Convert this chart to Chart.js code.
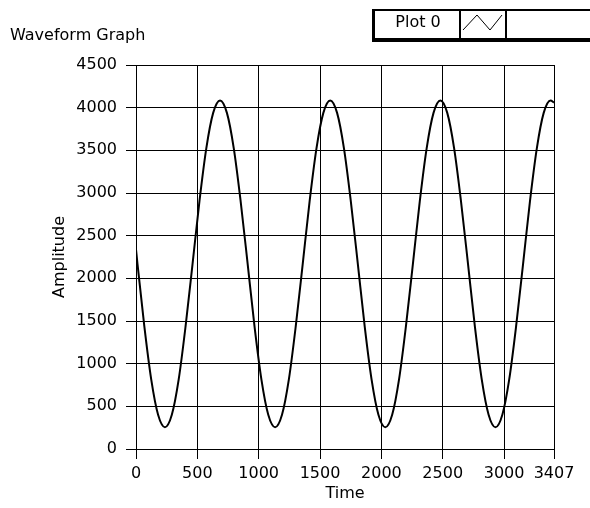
<!DOCTYPE html>
<html>
<head>
<meta charset="utf-8">
<script src="https://cdn.jsdelivr.net/npm/chart.js@4/dist/chart.umd.min.js"></script>
<style>
  html, body { margin: 0; padding: 0; background: #fff; }
  canvas { display: block; }
</style>
</head>
<body>
<canvas id="waveChart" width="590" height="508"></canvas>
<script>
// values
const timeValues = [0, 12, 68, 124, 180, 236, 292, 348, 404, 461, 517, 573, 629, 685,
    741, 797, 853, 910, 966, 1022, 1078, 1134, 1190, 1246, 1302, 1359, 1415, 1471, 1527, 1583,
    1639, 1695, 1751, 1808, 1864, 1920, 1976, 2032, 2088, 2144, 2200, 2257, 2313, 2369, 2425, 2481,
    2537, 2593, 2649, 2706, 2762, 2818, 2874, 2930, 2986, 3042, 3098, 3155, 3211, 3267, 3323, 3379,
    3407];
const amplitudeValues = [2340, 2170, 1437, 816, 401, 255, 401, 816, 1437, 2170, 2903, 3524, 3939, 4085,
    3939, 3524, 2903, 2170, 1437, 816, 401, 255, 401, 816, 1437, 2170, 2903, 3524, 3939, 4085,
    3939, 3524, 2903, 2170, 1437, 816, 401, 255, 401, 816, 1437, 2170, 2903, 3524, 3939, 4085,
    3939, 3524, 2903, 2170, 1437, 816, 401, 255, 401, 816, 1437, 2170, 2903, 3524, 3939, 4085,
    4060];
const xTickValues = [0, 500, 1000, 1500, 2000, 2500, 3000, 3407];
const yTickValues = [0, 500, 1000, 1500, 2000, 2500, 3000, 3500, 4000, 4500];

const chartTitle = "Waveform Graph";
const seriesName = "Plot 0";

Chart.defaults.font.family = "'DejaVu Sans', sans-serif";
Chart.defaults.font.size = 16;
Chart.defaults.color = "#000";

// title text + LabVIEW-style legend box
const labviewDecor = {
    id: "labviewDecor",
    afterDraw(chart) {
        const ctx = chart.ctx;
        ctx.save();
        ctx.fillStyle = "#000";
        ctx.font = "16px 'DejaVu Sans'";
        ctx.textBaseline = "alphabetic";
        ctx.textAlign = "left";
        ctx.fillText(chartTitle, 10, 40);

        // legend frame
        ctx.fillStyle = "#000";
        ctx.fillRect(372, 9, 230, 33);
        ctx.fillStyle = "#fff";
        ctx.fillRect(375, 11, 84, 27);
        ctx.fillRect(461, 11, 44, 27);
        ctx.fillRect(507, 11, 90, 27);

        ctx.fillStyle = "#000";
        ctx.textAlign = "center";
        ctx.textBaseline = "middle";
        ctx.fillText(chart.data.datasets[0].label, 418, 23);

        // little line icon
        ctx.strokeStyle = "#000";
        ctx.lineWidth = 1;
        ctx.beginPath();
        ctx.moveTo(463, 30);
        ctx.lineTo(477, 15);
        ctx.lineTo(490, 30);
        ctx.lineTo(502, 15);
        ctx.stroke();
        ctx.restore();
    }
};

const points = timeValues.map((t, i) => ({ x: t, y: amplitudeValues[i] }));

new Chart(document.getElementById("waveChart").getContext("2d"), {
    type: "scatter",
    data: {
        datasets: [{
            label: seriesName,
            data: points,
            showLine: true,
            borderColor: "#000",
            borderWidth: 2,
            pointRadius: 0,
            cubicInterpolationMode: "monotone"
        }]
    },
    options: {
        responsive: false,
        animation: false,
        layout: { padding: { top: 65, right: 36, left: 0, bottom: 0 } },
        plugins: {
            legend: { display: false },
            title: { display: false },
            tooltip: { enabled: false }
        },
        scales: {
            x: {
                type: "linear",
                min: 0,
                max: 3407,
                afterBuildTicks: axis => { axis.ticks = xTickValues.map(v => ({ value: v })); },
                afterFit: axis => { axis.height = 59; },
                ticks: { autoSkip: false, maxRotation: 0, padding: 5, color: "#000", callback: v => String(v) },
                grid: { color: "#000", lineWidth: 1, tickLength: 10 },
                border: { color: "#000", width: 1 },
                title: { display: true, text: "Time", color: "#000", padding: { top: 0, bottom: 5 } }
            },
            y: {
                type: "linear",
                min: 0,
                max: 4500,
                afterBuildTicks: axis => { axis.ticks = yTickValues.map(v => ({ value: v })); },
                afterFit: axis => { axis.width = 136; },
                ticks: { padding: 9, color: "#000", callback: v => String(v) },
                grid: { color: "#000", lineWidth: 1, tickLength: 10 },
                border: { color: "#000", width: 1 },
                title: { display: true, text: "Amplitude", color: "#000", padding: { top: 50, bottom: 0 } }
            }
        }
    },
    plugins: [labviewDecor]
});
</script>
</body>
</html>
